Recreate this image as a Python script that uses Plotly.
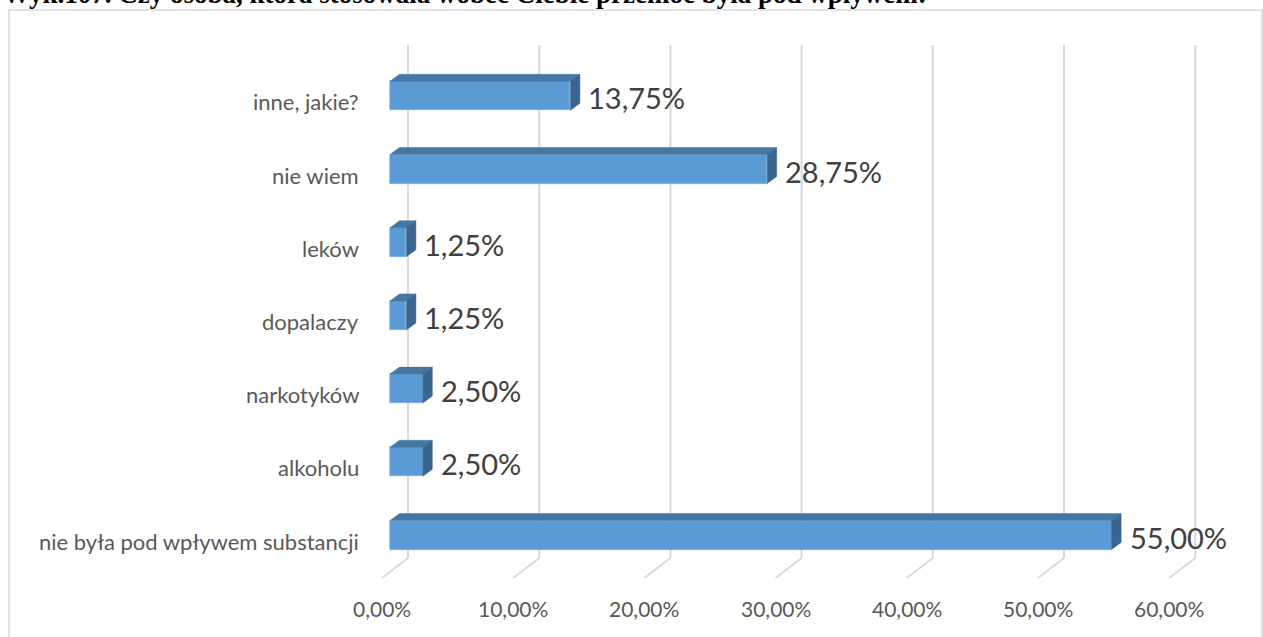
import plotly.graph_objects as go

# ---------------- data ----------------
categories = ["nie była pod wpływem substancji", "alkoholu", "narkotyków",
              "dopalaczy", "leków", "nie wiem", "inne, jakie?"]
values = [55.00, 2.50, 2.50, 1.25, 1.25, 28.75, 13.75]
value_labels = ["55,00%", "2,50%", "2,50%", "1,25%", "1,25%", "28,75%", "13,75%"]
tick_values = [0, 10, 20, 30, 40, 50, 60]
tick_labels = ["0,00%", "10,00%", "20,00%", "30,00%", "40,00%", "50,00%", "60,00%"]
title = "Wyk.107. Czy osoba, która stosowała wobec Ciebie przemoc była pod wpływem:"

# ---------------- geometry (pixels) ----------------
W, H = 1263, 637
PX_PER_UNIT = 13.12      # pixels per 1 percentage point
X0_PX = 390              # pixel of value 0 on bar front face
ROW_PX = 73.2            # pixels between categories
ROW0_PX = 535            # pixel y of the first category's bar centre

x_range = [-X0_PX / PX_PER_UNIT, (W - X0_PX) / PX_PER_UNIT]
y_range = [(ROW0_PX - H) / ROW_PX, ROW0_PX / ROW_PX]


def dx(p):
    return p / PX_PER_UNIT


def dy(p):
    return p / ROW_PX


def y_of_px(p):
    return (ROW0_PX - p) / ROW_PX


bar_h = dy(29)
depth_x = dx(9.5)
depth_y = dy(7)

FRONT = "#5B9BD5"
TOP = "#4677A3"
SIDE = "#3A6590"
GRID = "#D9D9D9"
FONT = "Lato, Open Sans, sans-serif"

ypos = list(range(len(categories)))

fig = go.Figure()

# front faces
fig.add_trace(go.Bar(
    x=values, y=ypos, orientation="h", base=0, width=bar_h,
    marker=dict(color=FRONT, line=dict(color="#7FB0DE", width=0.6)),
    hoverinfo="skip", showlegend=False,
))

# top and side faces
tx, ty, sx, sy = [], [], [], []
for v, i in zip(values, ypos):
    top = i + bar_h / 2
    bot = i - bar_h / 2
    tx += [0, v, v + depth_x, depth_x, 0, None]
    ty += [top, top, top + depth_y, top + depth_y, top, None]
    sx += [v, v, v + depth_x, v + depth_x, v, None]
    sy += [bot, top, top + depth_y, bot + depth_y, bot, None]

fig.add_trace(go.Scatter(x=tx, y=ty, mode="lines", fill="toself", fillcolor=TOP,
                         line=dict(color=TOP, width=0.5), hoverinfo="skip", showlegend=False))
fig.add_trace(go.Scatter(x=sx, y=sy, mode="lines", fill="toself", fillcolor=SIDE,
                         line=dict(color=SIDE, width=0.5), hoverinfo="skip", showlegend=False))

shapes = []
# gridlines (back wall + floor diagonals)
for t in tick_values:
    xb = t + dx(18)
    xf = t - dx(8)
    shapes.append(dict(type="line", xref="x", yref="y", layer="below",
                       x0=xb, x1=xb, y0=y_of_px(45), y1=y_of_px(558),
                       line=dict(color=GRID, width=2)))
    shapes.append(dict(type="line", xref="x", yref="y", layer="below",
                       x0=xb, x1=xf, y0=y_of_px(558), y1=y_of_px(578),
                       line=dict(color=GRID, width=2)))

# chart border
shapes.append(dict(type="rect", xref="paper", yref="paper", layer="below",
                   x0=9 / W, x1=1262 / W, y0=-0.02, y1=1 - 10 / H,
                   line=dict(color=GRID, width=1.5), fillcolor="rgba(0,0,0,0)"))

annotations = []
# value labels
for v, i, lab in zip(values, ypos, value_labels):
    annotations.append(dict(x=v, y=i, xref="x", yref="y", text=lab, showarrow=False,
                            xanchor="left", yanchor="middle", xshift=16, yshift=-2,
                            font=dict(family=FONT, size=29, color="#404040")))
# category labels
for c, i in zip(categories, ypos):
    annotations.append(dict(x=dx(361 - X0_PX), y=i, xref="x", yref="y", text=c, showarrow=False,
                            xanchor="right", yanchor="middle", yshift=-6,
                            font=dict(family=FONT, size=22, color="#595959")))
# tick labels
for t, lab in zip(tick_values, tick_labels):
    annotations.append(dict(x=t - dx(8), y=y_of_px(608), xref="x", yref="y", text=lab,
                            showarrow=False, xanchor="center", yanchor="middle",
                            font=dict(family=FONT, size=21, color="#595959")))
# title (cut off at the top, as in the reference)
annotations.append(dict(x=1 / W, y=1 - 11 / H, xref="paper", yref="paper", text="<b>" + title + "</b>",
                        showarrow=False, xanchor="left", yanchor="bottom",
                        font=dict(family="Liberation Serif, Times New Roman, serif", size=27, color="#000000")))

fig.update_layout(
    width=W, height=H,
    margin=dict(l=0, r=0, t=0, b=0),
    paper_bgcolor="white", plot_bgcolor="white",
    xaxis=dict(range=x_range, visible=False, fixedrange=True),
    yaxis=dict(range=y_range, visible=False, fixedrange=True),
    shapes=shapes, annotations=annotations,
    bargap=0,
)

fig.write_html("out.html", config={"displayModeBar": False},
               post_script="document.body.style.margin='0';document.body.style.overflow='hidden';")
